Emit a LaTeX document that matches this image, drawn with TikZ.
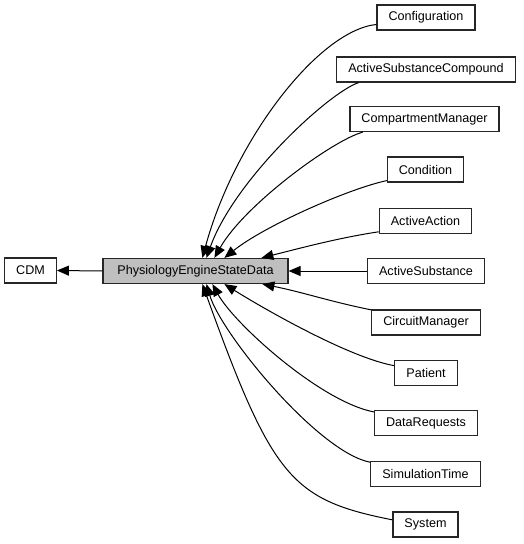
\documentclass[tikz,border=0pt]{standalone}
\usepackage{fontspec}
\setmainfont{Liberation Sans}
\usetikzlibrary{arrows.meta}
\definecolor{boxgray}{RGB}{191,191,191}
\begin{document}
\begin{tikzpicture}[x=1pt,y=1pt,>={Triangle[length=12pt,width=10pt]},
  box/.style={draw=black!85,line width=1.2pt,minimum height=25pt,inner xsep=11.5pt,inner ysep=0pt,font=\fontsize{12.6}{14}\selectfont},
  link/.style={->,line width=1pt}]
\useasboundingbox (0,0) rectangle (523,-544);
\node[box] (cdm) at (30.5,-270.5) {CDM};
\node[box,fill=boxgray,minimum width=185pt] (psd) at (195.5,-271) {PhysiologyEngineStateData};
\node[box] (cfg) at (426,-17.5) {Configuration};
\node[box] (asc) at (426,-69.5) {ActiveSubstanceCompound};
\node[box] (cmp) at (424.5,-119) {CompartmentManager};
\node[box] (cond) at (425.5,-169.5) {Condition};
\node[box] (act) at (425.5,-221) {ActiveAction};
\node[box] (asub) at (426,-271) {ActiveSubstance};
\node[box] (circ) at (426,-322.5) {CircuitManager};
\node[box] (pat) at (426,-373) {Patient};
\node[box] (req) at (426,-423) {DataRequests};
\node[box] (sim) at (425.5,-474) {SimulationTime};
\node[box] (sys) at (425.5,-524.5) {System};
\draw[link] (psd.west) -- (cdm.east);
% links into the top of the box
\draw[link] (cfg.188) .. controls +(-58,-6) and +(32,118) .. ([xshift=100pt]psd.north west);
\draw[link] (asc.191) .. controls +(-30,-10) and +(28,78) .. ([xshift=104pt]psd.north west);
\draw[link] (cmp.192) .. controls +(-30,-8) and +(30,53) .. ([xshift=112pt]psd.north west);
\draw[link] (cond.196) .. controls +(-38,-8) and +(40,32) .. ([xshift=122pt]psd.north west);
\draw[link] (act.193) .. controls +(-40,-6) and +(40,10) .. ([xshift=159pt]psd.north west);
\draw[link] (asub.west) -- (psd.east);
% links into the bottom of the box
\draw[link] (circ.167) .. controls +(-40,8) and +(40,-8) .. ([xshift=160pt]psd.south west);
\draw[link] (pat.167) .. controls +(-45,8) and +(40,-25) .. ([xshift=122pt]psd.south west);
\draw[link] (req.168) .. controls +(-53,10) and +(22,-40) .. ([xshift=110pt]psd.south west);
\draw[link] (sim.168) .. controls +(-52,10) and +(15,-50) .. ([xshift=104pt]psd.south west);
\draw[link] (sys.172) .. controls +(-101,20) and +(70,-194) .. ([xshift=100pt]psd.south west);
\end{tikzpicture}
\end{document}
